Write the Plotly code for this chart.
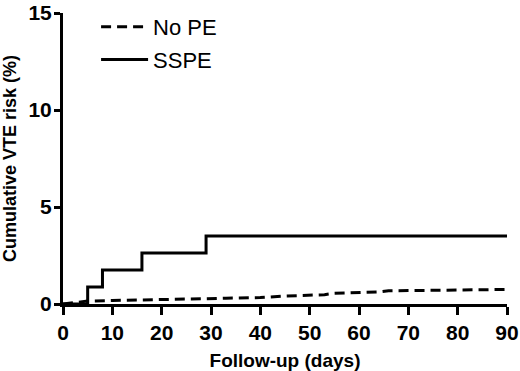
import plotly.graph_objects as go

# Data
sspe_days = [0, 5, 8, 16, 29, 90]
sspe_risk = [0, 0.88, 1.75, 2.63, 3.51, 3.51]

nope_days = [0, 2, 4, 5, 10, 17, 22, 28, 33, 40, 45, 53, 55, 64, 66, 78, 90]
nope_risk = [0, 0.05, 0.10, 0.15, 0.18, 0.20, 0.24, 0.27, 0.30, 0.33, 0.41, 0.48, 0.55, 0.62, 0.68, 0.72, 0.75]

x_ticks = [0, 10, 20, 30, 40, 50, 60, 70, 80, 90]
y_ticks = [0, 5, 10, 15]

FONT = "Liberation Sans, Arial, sans-serif"

fig = go.Figure()
fig.add_trace(go.Scatter(
    x=nope_days, y=nope_risk, mode="lines", name="No PE", legendgroup="a",
    line=dict(color="black", width=3, dash="10px,6px", shape="linear"),
))
fig.add_trace(go.Scatter(
    x=sspe_days, y=sspe_risk, mode="lines", name="SSPE", legendgroup="b",
    line=dict(color="black", width=3, shape="hv"),
))

fig.update_layout(
    width=520, height=371,
    margin=dict(l=63, r=13, t=13, b=67, autoexpand=False),
    paper_bgcolor="white", plot_bgcolor="white",
    font=dict(family=FONT, color="black"),
    showlegend=True,
    legend=dict(
        x=0.0745, y=1.024, xanchor="left", yanchor="top",
        bgcolor="rgba(0,0,0,0)",
        font=dict(size=22, family=FONT, color="black"),
        itemwidth=47, tracegroupgap=1,
    ),
    xaxis=dict(
        range=[0, 90], tickvals=x_ticks, ticktext=[str(v) for v in x_ticks],
        showgrid=False, zeroline=False, automargin=False,
        showline=True, linecolor="black", linewidth=3,
        ticks="outside", ticklen=8, tickwidth=3, tickcolor="black",
        ticklabeloverflow="allow",
        tickfont=dict(size=21, family=FONT, color="black", weight="bold"),
        title=dict(text="<b>Follow-up (days)</b>", font=dict(size=19, family=FONT, color="black"), standoff=12),
    ),
    yaxis=dict(
        range=[0, 15], tickvals=y_ticks, ticktext=[str(v) for v in y_ticks],
        showgrid=False, zeroline=False, automargin=False,
        showline=True, linecolor="black", linewidth=3,
        ticks="outside", ticklen=6, tickwidth=3, tickcolor="black",
        ticklabelstandoff=-2, ticklabeloverflow="allow",
        tickfont=dict(size=21, family=FONT, color="black", weight="bold"),
        title=dict(text="<b>Cumulative VTE risk (%)</b>", font=dict(size=18, family=FONT, color="black"), standoff=9),
    ),
)

fig.write_html(
    "out.html",
    config={"displayModeBar": False},
    post_script="document.body.style.margin='0';document.body.style.overflow='hidden';",
)
